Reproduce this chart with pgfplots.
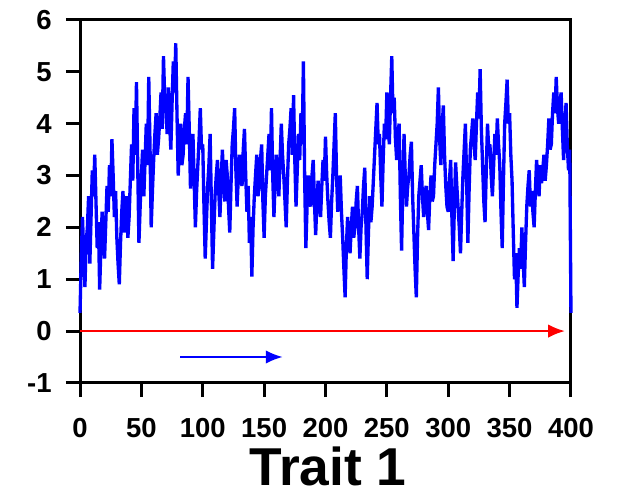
\documentclass[border=0pt]{standalone}
\usepackage{pgfplots}
\pgfplotsset{compat=1.18}
\usepackage{pgfplotstable}
\usepackage{fontspec}
\setmainfont{Liberation Sans}
\usetikzlibrary{arrows.meta}
\pgfplotstableread{
x y
0 0.35
1 1.4
2 2.2
3 1.5
4 0.85
5 1.7
6 2.0
7 2.6
8 1.3
9 2.2
10 3.1
11 2.6
12 3.4
13 2.5
14 1.6
15 2.1
16 0.8
17 1.6
18 2.3
19 1.9
20 1.4
21 2.1
22 2.8
23 2.3
24 3.2
25 2.6
26 3.7
27 3.0
28 2.2
29 2.7
30 1.8
31 1.3
32 0.9
33 1.7
34 2.3
35 2.7
36 1.9
37 2.2
38 2.6
39 1.8
40 2.2
41 2.9
42 3.6
43 2.9
44 4.3
45 3.4
46 4.8
47 3.2
48 1.7
49 2.4
50 3.0
51 3.5
52 2.6
53 3.3
54 4.0
55 3.2
56 4.9
57 3.6
58 2.0
59 2.7
60 3.3
61 3.8
62 4.2
63 3.4
64 3.7
65 4.1
66 4.6
67 3.9
68 5.3
69 4.5
70 4.3
71 3.8
72 4.7
73 4.0
74 3.5
75 4.4
76 5.2
77 4.6
78 5.55
79 4.2
80 3.0
81 3.6
82 4.0
83 3.2
84 3.4
85 3.9
86 4.2
87 3.6
88 4.9
89 3.9
90 2.75
91 3.3
92 3.8
93 2.9
94 2.0
95 2.7
96 3.2
97 3.7
98 4.3
99 3.5
100 3.6
101 2.4
102 1.4
103 2.1
104 2.8
105 3.2
106 3.8
107 2.5
108 1.2
109 1.9
110 2.6
111 3.0
112 3.3
113 2.7
114 2.2
115 2.9
116 3.5
117 2.9
118 2.5
119 3.3
120 3.0
121 2.4
122 1.9
123 2.8
124 3.6
125 3.9
126 4.3
127 3.1
128 2.4
129 3.0
130 3.4
131 2.9
132 2.8
133 3.5
134 3.9
135 3.0
136 2.3
137 2.8
138 1.7
139 2.2
140 1.05
141 2.0
142 2.6
143 3.0
144 3.4
145 2.6
146 2.8
147 3.3
148 3.6
149 2.5
150 1.8
151 2.6
152 3.0
153 3.4
154 3.8
155 3.1
156 4.3
157 3.0
158 2.2
159 2.9
160 3.4
161 2.9
162 2.6
163 3.3
164 4.0
165 3.4
166 3.0
167 2.5
168 2.0
169 2.9
170 3.6
171 3.9
172 4.3
173 3.4
174 4.55
175 3.3
176 2.4
177 3.1
178 3.8
179 3.3
180 4.2
181 3.6
182 5.2
183 3.0
184 1.6
185 2.4
186 3.0
187 2.6
188 2.4
189 3.0
190 3.3
191 2.5
192 1.85
193 2.5
194 2.9
195 2.4
196 2.2
197 2.8
198 3.3
199 2.9
200 3.75
201 3.0
202 2.5
203 2.1
204 1.8
205 2.5
206 3.0
207 3.6
208 4.2
209 3.0
210 2.3
211 2.8
212 3.0
213 2.3
214 1.8
215 1.2
216 0.65
217 1.6
218 2.2
219 1.8
220 1.5
221 2.0
222 2.4
223 1.8
224 2.0
225 2.5
226 2.8
227 2.0
228 1.4
229 2.0
230 2.3
231 2.8
232 3.15
233 2.0
234 1.0
235 1.9
236 2.6
237 2.1
238 2.4
239 2.9
240 3.4
241 3.9
242 4.4
243 3.6
244 3.8
245 3.0
246 2.4
247 3.3
248 4.0
249 3.7
250 4.6
251 4.1
252 3.6
253 4.5
254 5.3
255 4.2
256 4.5
257 3.7
258 3.3
259 3.8
260 4.0
261 2.6
262 1.55
263 2.8
264 3.8
265 3.0
266 2.4
267 2.8
268 3.0
269 3.4
270 3.65
271 2.6
272 1.9
273 1.2
274 0.65
275 1.8
276 2.6
277 2.9
278 3.2
279 2.6
280 2.2
281 2.6
282 2.8
283 2.3
284 1.95
285 2.6
286 3.0
287 2.5
288 2.6
289 3.2
290 3.6
291 4.0
292 4.7
293 3.7
294 3.2
295 3.9
296 4.35
297 3.4
298 2.8
299 2.4
300 2.3
301 2.9
302 3.3
303 2.2
304 1.35
305 2.4
306 3.25
307 2.8
308 2.4
309 2.0
310 1.5
311 2.3
312 3.0
313 3.5
314 4.0
315 2.9
316 1.7
317 2.7
318 3.5
319 3.8
320 4.1
321 3.6
322 3.3
323 4.0
324 4.6
325 4.1
326 5.05
327 3.9
328 3.2
329 2.5
330 2.1
331 3.1
332 4.0
333 3.5
334 3.6
335 3.0
336 2.6
337 3.2
338 3.8
339 3.4
340 4.1
341 3.6
342 3.2
343 2.3
344 1.6
345 2.9
346 4.0
347 4.4
348 4.85
349 4.0
350 4.2
351 3.4
352 2.9
353 1.9
354 1.0
355 1.5
356 0.45
357 1.1
358 1.6
359 1.2
360 2.0
361 1.4
362 0.85
363 1.7
364 2.4
365 2.8
366 3.1
367 2.4
368 2.7
369 2.3
370 2.0
371 2.7
372 3.3
373 2.9
374 2.6
375 3.2
376 2.85
377 3.1
378 3.4
379 2.9
380 3.2
381 3.6
382 4.1
383 3.5
384 3.6
385 4.2
386 4.6
387 4.2
388 4.9
389 4.3
390 4.0
391 4.4
392 4.6
393 3.9
394 3.3
395 3.9
396 4.4
397 3.6
398 3.1
399 3.5
400 0.35
}\walk
\begin{document}
\begin{tikzpicture}
\begin{axis}[
  name=ax,
  scale only axis,
  width=294.6pt, height=217.8pt,
  xmin=0, xmax=400, ymin=-1, ymax=6,
  xtick={0,50,...,400}, ytick={-1,0,...,6},
  axis line style={line width=1.8pt},
  every tick/.style={black, line width=1.8pt},
  major tick length=8.5pt,
  tick align=outside,
  xtick pos=left, ytick pos=left,
  /pgf/number format/assume math mode=true,
  tick label style={font=\fontsize{16.5}{18}\selectfont\bfseries},
  xticklabel style={yshift=-9pt},
  yticklabel style={xshift=-5pt},
  xlabel={Trait 1},
  xlabel style={font=\fontsize{32}{36}\selectfont\bfseries, at={(axis description cs:0.505,-0.229)}, anchor=center},
  clip=false,
]
\addplot[blue, line width=2pt, line join=miter, miter limit=2] table[x=x,y=y] {\walk};
\addplot[red, line width=1pt, -{Latex[length=10pt,width=8pt]}] coordinates {(0,0) (395,0)};
\addplot[blue, line width=1pt, -{Latex[length=10pt,width=8pt]}] coordinates {(81.5,-0.5) (165,-0.5)};
\coordinate (bl) at (axis description cs:-0.163,-0.317);
\coordinate (tr) at (axis description cs:1.106,1.055);
\end{axis}
\pgfresetboundingbox
\path[use as bounding box] (bl) rectangle (tr);
\end{tikzpicture}
\end{document}
